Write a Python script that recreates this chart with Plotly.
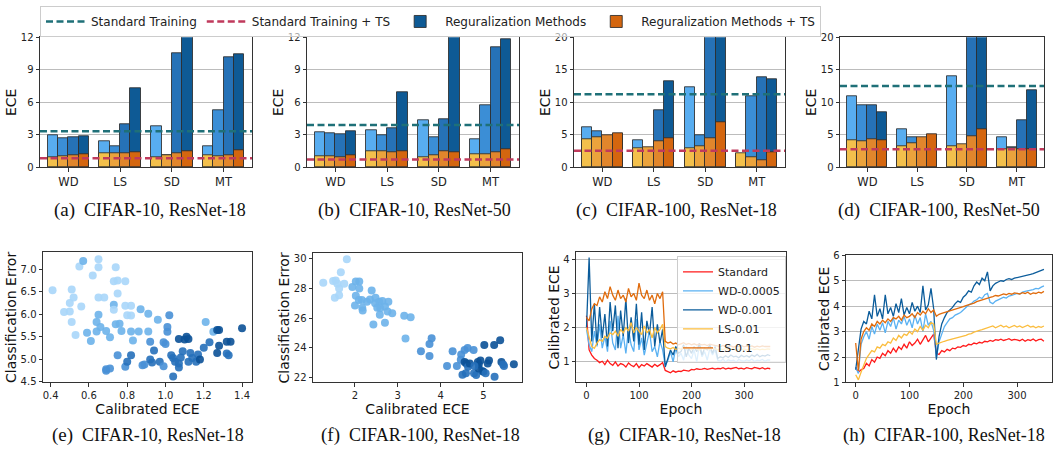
import plotly.graph_objects as go

W, H = 1057, 451

# ---------------- data ----------------
categories = ["WD", "LS", "SD", "MT"]

# bar panels: rows = 4 hyper-parameter settings (light -> dark), columns = categories
a_reg = [[2.94, 2.40, 3.75, 1.95], [2.64, 1.95, 1.10, 5.30], [2.79, 3.93, 10.50, 10.15], [2.85, 7.26, 13.50, 10.45]]
a_ts = [[0.93, 1.26, 0.96, 1.08], [1.00, 1.30, 1.10, 1.05], [1.11, 1.32, 1.32, 1.14], [1.25, 1.41, 1.50, 1.53]]
a_std, a_std_ts = 3.33, 0.84

b_reg = [[3.24, 3.42, 4.38, 2.55], [3.15, 2.97, 2.73, 5.73], [3.03, 3.63, 4.40, 11.07], [3.33, 6.93, 14.00, 11.80]]
b_ts = [[0.99, 1.50, 0.96, 1.23], [0.99, 1.44, 1.10, 1.23], [0.96, 1.41, 1.50, 1.41], [1.11, 1.50, 1.41, 1.65]]
b_std, b_std_ts = 3.90, 0.72

c_reg = [[6.10, 4.15, 12.30, 2.00], [5.60, 3.00, 4.90, 10.90], [4.80, 8.80, 24.00, 13.90], [5.10, 13.30, 24.00, 13.60]]
c_ts = [[4.30, 2.95, 3.00, 2.10], [4.65, 3.15, 3.25, 1.50], [4.90, 4.00, 4.50, 1.15], [5.25, 4.40, 6.90, 2.35]]
c_std, c_std_ts = 11.25, 2.55

d_reg = [[10.95, 5.83, 14.07, 4.67], [9.60, 4.67, 3.40, 3.12], [9.60, 4.50, 24.00, 7.24], [8.45, 4.90, 24.00, 11.86]]
d_ts = [[4.12, 3.17, 3.17, 2.76], [4.02, 3.72, 3.52, 2.90], [4.32, 4.57, 4.82, 2.76], [4.17, 5.02, 5.78, 2.76]]
d_std, d_std_ts = 12.50, 2.76

# scatter (e): CIFAR-10, ResNet-18
e_x = [0.41, 0.47, 0.50, 0.50, 0.51, 0.52, 0.51, 0.53, 0.55, 0.56, 0.57, 0.59, 0.61, 0.62, 0.64, 0.64,
       0.65, 0.65, 0.65, 0.65, 0.66, 0.68, 0.69, 0.69, 0.69, 0.71, 0.71, 0.73, 0.73, 0.73, 0.74, 0.74,
       0.75, 0.75, 0.75, 0.76, 0.77, 0.79, 0.79, 0.79, 0.80, 0.80, 0.82, 0.82, 0.82, 0.82, 0.83, 0.86,
       0.87, 0.88, 0.89, 0.91, 0.91, 0.92, 0.92, 0.93, 0.94, 0.96, 0.97, 0.99, 0.99, 1.00, 1.01, 1.01,
       1.02, 1.03, 1.04, 1.04, 1.05, 1.07, 1.07, 1.07, 1.08, 1.09, 1.10, 1.11, 1.12, 1.12, 1.13, 1.14,
       1.16, 1.17, 1.18, 1.20, 1.21, 1.23, 1.25, 1.27, 1.28, 1.28, 1.27, 1.32, 1.34, 1.32, 1.33, 1.40]
e_y = [6.53, 6.05, 6.06, 6.25, 6.55, 6.37, 5.83, 5.54, 7.06, 6.17, 7.18, 5.59, 5.41, 6.86, 5.62, 5.83,
       7.22, 7.04, 5.99, 6.37, 5.72, 6.37, 5.63, 4.78, 4.75, 4.80, 5.49, 6.21, 6.10, 6.73, 5.78, 7.04,
       6.75, 6.46, 5.09, 5.79, 5.63, 6.73, 6.19, 4.84, 5.98, 4.95, 6.19, 5.97, 5.62, 5.09, 5.42, 5.62,
       6.11, 4.87, 4.89, 6.01, 5.62, 5.00, 5.39, 4.93, 5.20, 5.88, 4.95, 5.38, 4.85, 5.34, 5.61, 5.72,
       5.98, 5.09, 5.03, 4.62, 4.95, 4.91, 5.45, 4.82, 5.04, 5.18, 5.44, 5.50, 5.45, 4.95, 5.14, 5.03,
       4.95, 5.11, 5.00, 5.26, 5.83, 5.38, 5.61, 5.65, 5.65, 5.30, 5.14, 5.39, 5.39, 5.13, 5.09, 5.69]
e_level = [0, 0, 0, 0, 0, 0, 0, 0, 0, 0, 1, 1, 1, 0, 1, 1,
           0, 0, 1, 0, 1, 0, 1, 2, 2, 2, 1, 1, 0, 0, 1, 0,
           0, 0, 2, 1, 1, 0, 0, 2, 0, 3, 0, 0, 1, 3, 1, 1,
           1, 2, 2, 1, 1, 3, 2, 3, 3, 1, 3, 2, 2, 2, 2, 2,
           2, 3, 3, 3, 3, 3, 4, 3, 3, 3, 4, 4, 4, 3, 3, 3,
           3, 3, 4, 3, 1, 3, 1, 4, 4, 4, 4, 4, 4, 3, 3, 4]

# scatter (f): CIFAR-100, ResNet-18
f_x = [1.81, 1.26, 1.49, 1.55, 1.67, 1.59, 1.63, 1.75, 1.53, 1.63,
       1.94, 2.02, 2.10, 2.10, 2.02, 2.00, 2.09, 2.16, 2.17, 2.18, 2.28, 2.39, 2.35, 2.47, 2.48,
       2.52, 2.57, 2.64, 2.59, 2.58, 2.70, 2.76, 2.78, 2.87, 2.43, 2.70, 3.15, 3.30, 3.18,
       3.54, 3.74, 3.79, 3.74, 4.15, 4.28, 4.38, 4.48, 4.47, 4.56, 4.63, 4.77,
       4.51, 4.59, 4.56, 4.60, 4.64, 4.68, 4.78, 4.83, 4.87, 4.89, 4.93, 4.97, 5.00, 5.02,
       5.05, 5.10, 5.13, 5.25, 5.26, 5.39, 5.42, 5.46, 5.48, 5.71, 4.89, 4.79]
f_y = [29.96, 28.38, 28.49, 28.53, 29.08, 28.31, 27.98, 28.31, 27.37, 27.54,
       28.09, 28.46, 28.46, 27.98, 27.50, 26.84, 27.21, 27.21, 26.70, 26.50, 27.10, 27.86, 27.25, 26.99, 27.36,
       26.70, 27.10, 27.14, 26.66, 26.22, 26.77, 26.44, 27.10, 26.33, 25.57, 25.68, 26.16, 26.05, 24.63,
       23.77, 24.25, 24.64, 23.44, 22.77, 23.77, 22.77, 23.55, 23.20, 23.86, 23.99, 23.86,
       22.18, 22.28, 23.05, 22.94, 22.72, 22.94, 22.28, 22.17, 23.05, 22.88, 23.15, 22.44, 22.39, 24.18,
       22.28, 22.94, 23.15, 24.18, 22.06, 24.51, 23.05, 22.88, 22.77, 22.90, 22.61, 22.77]
f_level = [0, 0, 0, 0, 0, 0, 0, 0, 0, 0,
           1, 1, 1, 1, 1, 1, 1, 1, 1, 1, 1, 1, 1, 1, 1,
           1, 1, 1, 1, 1, 1, 1, 1, 1, 1, 1, 1, 1, 1,
           2, 2, 2, 2, 2, 2, 2, 2, 2, 2, 2, 2,
           3, 3, 4, 4, 3, 4, 3, 3, 4, 4, 4, 3, 4, 4,
           3, 4, 4, 4, 3, 4, 4, 3, 3, 4, 4, 3]

# training curves, one value every 5 epochs (0..350)
series_names = ["Standard", "WD-0.0005", "WD-0.001", "LS-0.01", "LS-0.1"]

g_standard = [2.35, 1.35, 1.20, 1.10, 1.05, 0.98, 1.02, 0.92, 1.05, 0.95,
              0.90, 1.00, 0.88, 0.95, 0.92, 0.85, 0.97, 0.90, 0.86, 0.95,
              0.83, 0.92, 0.88, 0.95, 0.90, 0.85, 0.93, 0.87, 0.92, 0.98,
              0.75, 0.72, 0.68, 0.74, 0.70, 0.73, 0.72, 0.76, 0.74, 0.73,
              0.78, 0.77, 0.80, 0.78, 0.79, 0.81, 0.78, 0.80, 0.82, 0.79,
              0.81, 0.80, 0.83, 0.79, 0.82, 0.80, 0.81, 0.84, 0.80, 0.82,
              0.79, 0.83, 0.81, 0.80, 0.84, 0.81, 0.80, 0.83, 0.79, 0.82, 0.80]
g_wd1 = [1.95, 1.50, 1.30, 1.90, 1.45, 2.10, 1.40, 1.75, 1.30, 2.20,
         1.55, 1.35, 2.35, 1.40, 1.80, 1.25, 1.95, 1.50, 1.30, 2.25,
         1.35, 1.70, 1.20, 1.55, 1.90, 1.30, 1.45, 1.15, 1.60, 1.35,
         0.90, 1.05, 1.30, 1.00, 1.40, 1.15, 1.25, 1.05, 1.45, 1.20,
         1.10, 1.35, 1.00, 1.50, 1.15, 1.30, 1.05, 1.40, 1.20, 1.35,
         1.05, 1.02, 1.08, 1.00, 1.06, 1.03, 1.05, 1.00, 1.07, 1.04,
         1.02, 1.06, 1.03, 1.08, 1.01, 1.05, 1.04, 1.07, 1.02, 1.06, 1.05]
g_wd2 = [2.00, 4.05, 1.60, 2.70, 1.50, 2.60, 1.70, 2.40, 1.45, 2.75,
         1.90, 2.65, 1.40, 2.50, 1.75, 2.85, 1.55, 2.30, 1.60, 2.70,
         1.50, 2.45, 1.35, 2.20, 1.80, 2.60, 1.45, 2.10, 1.55, 1.95,
         0.85, 1.10, 1.35, 1.20, 1.45, 1.25, 1.30, 1.50, 1.15, 1.40,
         1.25, 1.45, 1.30, 1.55, 1.20, 1.40, 1.35, 1.50, 1.25, 1.45,
         1.10, 1.15, 1.12, 1.18, 1.13, 1.20, 1.15, 1.17, 1.12, 1.19,
         1.15, 1.18, 1.14, 1.20, 1.16, 1.22, 1.15, 1.19, 1.17, 1.21, 1.18]
g_ls1 = [2.00, 1.70, 1.45, 1.40, 1.55, 1.65, 1.60, 1.75, 1.70, 1.85,
         1.80, 1.90, 1.75, 1.95, 1.85, 2.00, 1.90, 2.15, 1.85, 2.00,
         1.90, 1.80, 2.05, 1.85, 1.95, 1.70, 2.00, 1.85, 1.95, 2.10,
         1.45, 1.40, 1.38, 1.42, 1.36, 1.40, 1.37, 1.43, 1.38, 1.41,
         1.36, 1.40, 1.38, 1.35, 1.41, 1.37, 1.39, 1.36, 1.40, 1.38,
         1.35, 1.38, 1.36, 1.39, 1.35, 1.37, 1.38, 1.34, 1.37, 1.36,
         1.38, 1.35, 1.37, 1.39, 1.36, 1.38, 1.35, 1.37, 1.36, 1.38, 1.37]
g_ls2 = [2.30, 2.20, 2.55, 2.70, 2.65, 2.90, 2.75, 3.05, 2.85, 3.20,
         2.95, 2.80, 3.10, 2.85, 2.95, 2.75, 3.15, 2.90, 3.00, 2.80,
         3.30, 2.95, 2.85, 3.10, 2.80, 2.95, 2.70, 3.00, 2.85, 3.05,
         1.60, 1.55, 1.58, 1.52, 1.55, 1.50, 1.53, 1.56, 1.51, 1.54,
         1.50, 1.53, 1.49, 1.52, 1.50, 1.51, 1.48, 1.52, 1.50, 1.49,
         1.47, 1.45, 1.48, 1.44, 1.46, 1.47, 1.43, 1.46, 1.45, 1.48,
         1.44, 1.46, 1.45, 1.47, 1.43, 1.46, 1.44, 1.47, 1.45, 1.46, 1.45]

h_standard = [1.60, 1.40, 1.50, 1.55, 1.75, 1.65, 1.90, 1.80, 2.00, 1.95,
              2.15, 2.05, 2.25, 2.15, 2.35, 2.20, 2.40, 2.30, 2.50, 2.35,
              2.60, 2.45, 2.55, 2.70, 2.50, 2.65, 2.85, 2.60, 2.75, 2.90,
              2.15, 2.10, 2.25, 2.20, 2.30, 2.25, 2.35, 2.32, 2.40, 2.38,
              2.45, 2.42, 2.50, 2.48, 2.55, 2.52, 2.58, 2.55, 2.62, 2.60,
              2.65, 2.62, 2.68, 2.66, 2.70, 2.65, 2.68, 2.72, 2.66, 2.69,
              2.67, 2.64, 2.70, 2.62, 2.68, 2.65, 2.71, 2.63, 2.68, 2.70, 2.62]
h_wd1 = [1.60, 1.35, 2.50, 2.80, 3.00, 2.70, 3.20, 2.90, 3.30, 3.05,
         3.35, 2.95, 3.40, 3.20, 3.55, 3.10, 3.45, 3.30, 3.60, 3.25,
         3.50, 3.15, 3.65, 3.30, 3.55, 3.00, 3.70, 3.25, 3.40, 3.05,
         2.00, 2.60, 2.90, 3.20, 3.35, 3.50, 3.55, 3.65, 3.70, 3.75,
         3.85, 3.95, 4.05, 4.10, 4.20, 4.25, 4.35, 4.30, 4.45, 4.50,
         4.15, 4.10, 4.20, 4.25, 4.30, 4.35, 4.32, 4.40, 4.42, 4.45,
         4.50, 4.48, 4.55, 4.58, 4.60, 4.62, 4.65, 4.70, 4.68, 4.75, 4.80]
h_wd2 = [1.50, 2.40, 3.10, 3.40, 3.30, 3.80, 3.50, 4.45, 3.60, 3.90,
         3.50, 4.45, 3.70, 3.95, 3.60, 4.10, 3.75, 4.30, 3.65, 3.95,
         3.70, 4.15, 3.80, 4.00, 3.75, 4.80, 3.85, 4.05, 4.70, 3.90,
         1.90, 2.80, 3.30, 3.55, 3.75, 3.85, 3.95, 4.10, 4.20, 4.15,
         4.35, 4.45, 4.60, 4.55, 4.80, 4.95, 4.85, 5.10, 5.00, 5.35,
         4.60, 4.80, 4.90, 4.95, 5.00, 4.98, 5.05, 5.08, 5.05, 5.10,
         5.12, 5.15, 5.18, 5.20, 5.22, 5.25, 5.28, 5.32, 5.35, 5.40, 5.45]
h_ls1 = [1.30, 1.10, 1.40, 1.65, 1.95, 2.10, 2.25, 2.20, 2.40, 2.35,
         2.50, 2.45, 2.60, 2.55, 2.75, 2.65, 2.85, 2.75, 2.90, 2.85,
         3.00, 2.90, 3.10, 3.00, 3.20, 3.05, 3.25, 3.15, 3.35, 3.30,
         2.50, 2.55, 2.60, 2.62, 2.65, 2.68, 2.70, 2.72, 2.75, 2.78,
         2.82, 2.85, 2.90, 2.92, 2.98, 3.00, 3.05, 3.08, 3.12, 3.15,
         3.18, 3.22, 3.15, 3.20, 3.25, 3.18, 3.22, 3.15, 3.20, 3.24,
         3.18, 3.22, 3.16, 3.20, 3.25, 3.18, 3.21, 3.15, 3.20, 3.17, 3.22]
h_ls2 = [2.55, 1.45, 2.70, 3.00, 3.15, 3.05, 3.30, 3.20, 3.40, 3.30,
         3.45, 3.35, 3.50, 3.40, 3.55, 3.50, 3.60, 3.45, 3.65, 3.55,
         3.60, 3.70, 3.55, 3.75, 3.65, 3.80, 3.70, 3.90, 3.75, 3.85,
         3.60, 3.68, 3.72, 3.75, 3.78, 3.80, 3.85, 3.88, 3.92, 3.95,
         3.98, 4.02, 4.05, 4.10, 4.12, 4.18, 4.22, 4.25, 4.30, 4.32,
         4.35, 4.38, 4.42, 4.40, 4.45, 4.48, 4.45, 4.50, 4.47, 4.52,
         4.50, 4.48, 4.53, 4.50, 4.55, 4.47, 4.52, 4.50, 4.55, 4.52, 4.58]

captions = ["(a)", "(b)", "(c)", "(d)", "(e)", "(f)", "(g)", "(h)"]
caption_texts = ["CIFAR-10, ResNet-18", "CIFAR-10, ResNet-50", "CIFAR-100, ResNet-18", "CIFAR-100, ResNet-50",
                 "CIFAR-10, ResNet-18", "CIFAR-100, ResNet-18", "CIFAR-10, ResNet-18", "CIFAR-100, ResNet-18"]

# ---------------- styles ----------------
REG_COL = ["#58adf0", "#3b8ed6", "#2672b7", "#0e5a95"]
TS_COL = ["#f3c04c", "#eba33c", "#e1862c", "#d4660f"]
EDGE = "rgba(45,45,45,0.85)"
STD_COL, STD_TS_COL = "#1f7078", "#c03a5c"
LINE_COL = ["#ff1a1a", "#5ab1f2", "#0b5c9b", "#fbbd3e", "#e06b0c"]
FONT = "DejaVu Sans"
AXC = "#333333"


def xdom(x0, x1):
    return [x0 / W, x1 / W]


def ydom(top, bottom):
    return [1 - bottom / H, 1 - top / H]


fig = go.Figure()
layout = {}
shapes = []
annotations = []


def axis_common():
    return dict(showline=True, mirror=True, linecolor=AXC, linewidth=1, ticks="outside", ticklen=3.5,
                tickcolor=AXC, zeroline=False, tickfont=dict(family=FONT, size=10, color="#222"))


def title(text, standoff):
    return dict(text=text, font=dict(family=FONT, size=14, color="#111"), standoff=standoff)


# ---- bar panels ----
bar_panels = [
    (a_reg, a_ts, a_std, a_std_ts, (40, 252), 12, [0, 3, 6, 9, 12]),
    (b_reg, b_ts, b_std, b_std_ts, (307, 519), 12, [0, 3, 6, 9, 12]),
    (c_reg, c_ts, c_std, c_std_ts, (574, 785), 20, [0, 5, 10, 15, 20]),
    (d_reg, d_ts, d_std, d_std_ts, (840, 1044), 20, [0, 5, 10, 15, 20]),
]
for k, (reg, ts, std, std_ts, (x0, x1), ymax, yt) in enumerate(bar_panels):
    n = k + 1
    xa = "x" if n == 1 else f"x{n}"
    ya = "y" if n == 1 else f"y{n}"
    for i in range(4):
        fig.add_trace(go.Bar(x=categories, y=reg[i], width=0.2, offset=-0.4 + 0.2 * i,
                             marker=dict(color=REG_COL[i], line=dict(color=EDGE, width=1)),
                             name="Reguralization Methods", legend="legend", legendrank=3,
                             showlegend=(n == 1 and i == 3), xaxis=xa, yaxis=ya))
    for i in range(4):
        fig.add_trace(go.Bar(x=categories, y=ts[i], width=0.2, offset=-0.4 + 0.2 * i,
                             marker=dict(color=TS_COL[i], line=dict(color=EDGE, width=1)),
                             name="Reguralization Methods + TS", legend="legend", legendrank=4,
                             showlegend=(n == 1 and i == 3), xaxis=xa, yaxis=ya))
    for val, col, nm, rk in [(std, STD_COL, "Standard Training", 1), (std_ts, STD_TS_COL, "Standard Training + TS", 2)]:
        shapes.append(dict(type="line", xref=f"{xa} domain", yref=ya, x0=0, x1=1, y0=val, y1=val,
                           line=dict(color=col, width=2.5, dash="7px,3.5px"), layer="above",
                           name=nm, showlegend=(n == 1), legend="legend", legendrank=rk))
    xk = dict(axis_common(), domain=xdom(x0, x1), anchor=ya, range=[-0.55, 3.55], type="category",
              tickfont=dict(family=FONT, size=11.5, color="#222"), showgrid=False)
    yk = dict(axis_common(), domain=ydom(33, 166), anchor=xa, range=[0, ymax], tickvals=yt,
              showgrid=True, gridcolor="#bcbcbc", gridwidth=1.2, title=title("ECE", 0))
    layout["xaxis" if n == 1 else f"xaxis{n}"] = xk
    layout["yaxis" if n == 1 else f"yaxis{n}"] = yk

# ---- scatter panels ----
BLUES = [[0, "#a9d6f9"], [0.25, "#6db2ea"], [0.5, "#4890d6"], [0.75, "#2670ba"], [1, "#0b5197"]]
sc_panels = [
    (e_x, e_y, e_level, (43, 252), (253, 386), [0.36, 1.452], [0.4, 0.6, 0.8, 1.0, 1.2, 1.4],
     [4.49, 7.37], [4.5, 5.0, 5.5, 6.0, 6.5, 7.0], ".1f"),
    (f_x, f_y, f_level, (313, 522), (254, 386), [1.02, 5.9], [2, 3, 4, 5],
     [21.67, 30.35], [22, 24, 26, 28, 30], "d"),
]
for k, (sx, sy, lv, (x0, x1), (t0, b0), xr, xt, yr, ytv, fmt) in enumerate(sc_panels):
    n = 5 + k
    xa, ya = f"x{n}", f"y{n}"
    fig.add_trace(go.Scatter(x=sx, y=sy, mode="markers", showlegend=False, xaxis=xa, yaxis=ya,
                             marker=dict(size=8, color=lv, colorscale=BLUES, cmin=0, cmax=4, opacity=0.9,
                                         line=dict(width=0))))
    layout[f"xaxis{n}"] = dict(axis_common(), domain=xdom(x0, x1), anchor=ya, range=xr, tickvals=xt,
                               tickformat=fmt, showgrid=False, title=title("Calibrated ECE", 2))
    layout[f"yaxis{n}"] = dict(axis_common(), domain=ydom(t0, b0), anchor=xa, range=yr, tickvals=ytv,
                               tickformat=fmt, showgrid=False, title=title("Classification Error", 0))

# ---- line panels ----
g_series = [g_standard, g_wd1, g_wd2, g_ls1, g_ls2]
h_series = [h_standard, h_wd1, h_wd2, h_ls1, h_ls2]
line_panels = [
    (g_series, (576, 786), (253, 386), [-20, 380], [0.4, 4.2], [1, 2, 3, 4], True),
    (h_series, (846, 1052), (256, 386), [-18, 365], [1, 6], [1, 2, 3, 4, 5, 6], False),
]
for k, (series, (x0, x1), (t0, b0), xr, yr, ytv, leg) in enumerate(line_panels):
    n = 7 + k
    xa, ya = f"x{n}", f"y{n}"
    for i, vals in enumerate(series):
        epochs = [5 * j for j in range(len(vals))]
        fig.add_trace(go.Scatter(x=epochs, y=vals, mode="lines", name=series_names[i],
                                 line=dict(color=LINE_COL[i], width=1.3), showlegend=leg,
                                 legend="legend2", xaxis=xa, yaxis=ya))
    layout[f"xaxis{n}"] = dict(axis_common(), domain=xdom(x0, x1), anchor=ya, range=xr,
                               tickvals=[0, 100, 200, 300], showgrid=False, title=title("Epoch", 1))
    layout[f"yaxis{n}"] = dict(axis_common(), domain=ydom(t0, b0), anchor=xa, range=yr, tickvals=ytv,
                               showgrid=True, gridcolor="#bcbcbc", gridwidth=1.2,
                               title=title("Calibrated ECE", 0))

# ---- captions ----
cap_pos = [(150, 210), (414, 210), (676, 210), (939, 210), (148, 440), (420, 440), (684, 440), (944, 440)]
for (cx, cy), lab, txt in zip(cap_pos, captions, caption_texts):
    annotations.append(dict(xref="paper", yref="paper", x=cx / W, y=1 - cy / H, xanchor="center", yanchor="middle",
                            showarrow=False, text=f"<span style='font-size:19px'>{lab}</span>\u00a0\u00a0{txt}",
                            font=dict(family="Liberation Serif", size=18, color="#111")))

layout.update(
    width=W, height=H, margin=dict(l=0, r=0, t=0, b=0),
    paper_bgcolor="white", plot_bgcolor="white", barmode="overlay", bargap=0,
    shapes=shapes, annotations=annotations,
    legend=dict(orientation="h", x=40 / W, y=1 - 1 / H, xanchor="left", yanchor="top", itemwidth=40,
                bgcolor="rgba(255,255,255,0.6)", bordercolor="#cccccc", borderwidth=1,
                font=dict(family=FONT, size=12, color="#222"), traceorder="normal"),
    legend2=dict(orientation="v", x=677 / W, y=1 - 257 / H, xanchor="left", yanchor="top",
                 bgcolor="rgba(255,255,255,0.8)", bordercolor="#cccccc", borderwidth=1,
                 font=dict(family=FONT, size=11, color="#222"), tracegroupgap=0),
    font=dict(family=FONT, color="#222"),
)
fig.update_layout(**layout)
fig.write_html("out.html")
